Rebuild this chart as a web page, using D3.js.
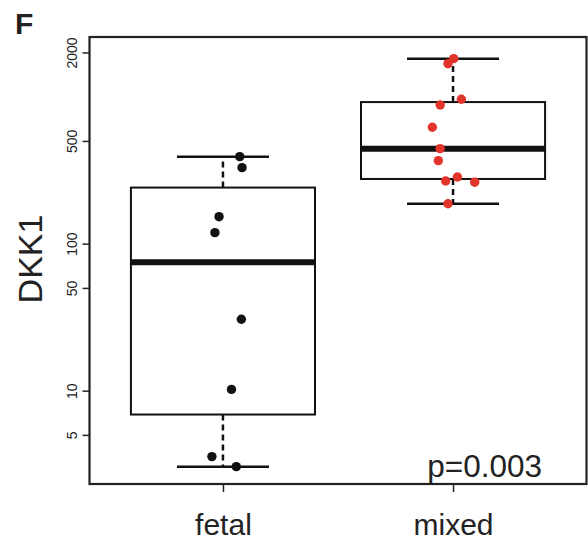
<!DOCTYPE html>
<html>
<head>
<meta charset="utf-8">
<script src="https://cdn.jsdelivr.net/npm/d3@7"></script>
<style>
  body { margin: 0; background: #fff; }
  svg { display: block; font-family: 'Liberation Sans', Arial, sans-serif; }
</style>
</head>
<body>
<svg id="chart" width="588" height="544"></svg>
<script>
// values
const groups = ['fetal', 'mixed'];
const fetalValues = [391, 329, 152.6, 118.8, 30.6, 10.2, 3.56, 3.04];
const mixedValues = [1814, 1677, 960, 878, 619, 443, 367, 284, 267, 262, 187];
// horizontal jitter of each point, in group units
const fetalJitter = [0.073, 0.083, -0.017, -0.035, 0.080, 0.037, -0.048, 0.058];
const mixedJitter = [0.003, -0.022, 0.036, -0.056, -0.090, -0.056, -0.064, 0.019, -0.032, 0.094, -0.022];
const yTicks = [5, 10, 50, 100, 500, 2000];
const pLabel = 'p=0.003';
const yLabel = 'DKK1';
const panelLabel = 'F';

const series = [
  { name: groups[0], values: fetalValues, jitter: fetalJitter, color: '#111' },
  { name: groups[1], values: mixedValues, jitter: mixedJitter, color: '#e3342b' },
];

const svg = d3.select('#chart');
const frame = { left: 89.5, right: 586.5, top: 37, bottom: 484 };

const x = d3.scaleLinear().domain([0.42, 2.58]).range([frame.left, frame.right]);
const y = d3.scaleLog().domain([2.317, 2547]).range([frame.bottom, frame.top]);

// Tukey five-number summary, like R's fivenum
function fivenum(vals) {
  const s = vals.slice().sort(d3.ascending);
  const n = s.length;
  const n4 = Math.floor((n + 3) / 2) / 2;
  const d = [1, n4, (n + 1) / 2, n + 1 - n4, n];
  return d.map(i => 0.5 * (s[Math.floor(i) - 1] + s[Math.ceil(i) - 1]));
}

function boxStats(vals) {
  const f = fivenum(vals);
  const iqr = f[3] - f[1];
  const inside = vals.filter(v => v >= f[1] - 1.5 * iqr && v <= f[3] + 1.5 * iqr);
  return { q1: f[1], med: f[2], q3: f[3], lo: d3.min(inside), hi: d3.max(inside) };
}

const boxW = 0.8;
const capW = 0.4;

series.forEach((s, i) => {
  const c = i + 1;
  const st = boxStats(s.values);
  const g = svg.append('g');

  // dashed whiskers
  g.selectAll('line.whisker')
    .data([[st.q3, st.hi], [st.q1, st.lo]])
    .enter()
    .append('line')
    .attr('x1', x(c)).attr('x2', x(c))
    .attr('y1', d => y(d[0])).attr('y2', d => y(d[1]))
    .attr('stroke', '#111')
    .attr('stroke-width', 2.5)
    .attr('stroke-dasharray', '6,4');

  // caps
  g.selectAll('line.cap')
    .data([st.hi, st.lo])
    .enter()
    .append('line')
    .attr('x1', x(c - capW / 2)).attr('x2', x(c + capW / 2))
    .attr('y1', d => y(d)).attr('y2', d => y(d))
    .attr('stroke', '#111')
    .attr('stroke-width', 2.5);

  g.append('rect')
    .attr('x', x(c - boxW / 2))
    .attr('width', x(c + boxW / 2) - x(c - boxW / 2))
    .attr('y', y(st.q3))
    .attr('height', y(st.q1) - y(st.q3))
    .attr('fill', '#fff')
    .attr('stroke', '#111')
    .attr('stroke-width', 2);

  g.append('line')
    .attr('x1', x(c - boxW / 2)).attr('x2', x(c + boxW / 2))
    .attr('y1', y(st.med)).attr('y2', y(st.med))
    .attr('stroke', '#111')
    .attr('stroke-width', 6);

  g.selectAll('circle')
    .data(s.values)
    .enter()
    .append('circle')
    .attr('cx', (d, j) => x(c + s.jitter[j]))
    .attr('cy', d => y(d))
    .attr('r', 4.7)
    .attr('fill', s.color);
});

// frame
svg.append('rect')
  .attr('x', frame.left)
  .attr('y', frame.top)
  .attr('width', frame.right - frame.left)
  .attr('height', frame.bottom - frame.top)
  .attr('fill', 'none')
  .attr('stroke', '#222')
  .attr('stroke-width', 2.2);

// y axis
const yAxis = svg.append('g')
  .attr('transform', `translate(${frame.left},0)`)
  .call(d3.axisLeft(y).tickValues(yTicks).tickSize(7).tickFormat(d3.format('d')));
yAxis.select('.domain').remove();
yAxis.selectAll('.tick line').attr('stroke', '#222').attr('stroke-width', 1.5);
yAxis.selectAll('.tick text')
  .attr('x', null).attr('dy', null)
  .attr('transform', 'translate(-12.5,0) rotate(-90)')
  .attr('text-anchor', 'middle')
  .attr('font-size', 14)
  .attr('fill', '#222');

// x axis
const xAxis = svg.append('g')
  .attr('transform', `translate(0,${frame.bottom})`)
  .call(d3.axisBottom(x).tickValues([1, 2]).tickSize(8).tickFormat(d => groups[d - 1]));
xAxis.select('.domain').remove();
xAxis.selectAll('.tick line').attr('stroke', '#222').attr('stroke-width', 1.5);
xAxis.selectAll('.tick text')
  .attr('y', 51).attr('dy', null)
  .attr('font-size', 30)
  .attr('fill', '#222');

svg.append('text')
  .attr('transform', 'translate(42,259) rotate(-90)')
  .attr('text-anchor', 'middle')
  .attr('font-size', 34)
  .attr('fill', '#222')
  .text(yLabel);

svg.append('text')
  .attr('x', 542)
  .attr('y', 476.5)
  .attr('text-anchor', 'end')
  .attr('font-size', 31.5)
  .attr('fill', '#222')
  .text(pLabel);

svg.append('text')
  .attr('x', 15)
  .attr('y', 33.5)
  .attr('font-size', 30)
  .attr('font-weight', 'bold')
  .attr('fill', '#222')
  .text(panelLabel);
</script>
</body>
</html>
